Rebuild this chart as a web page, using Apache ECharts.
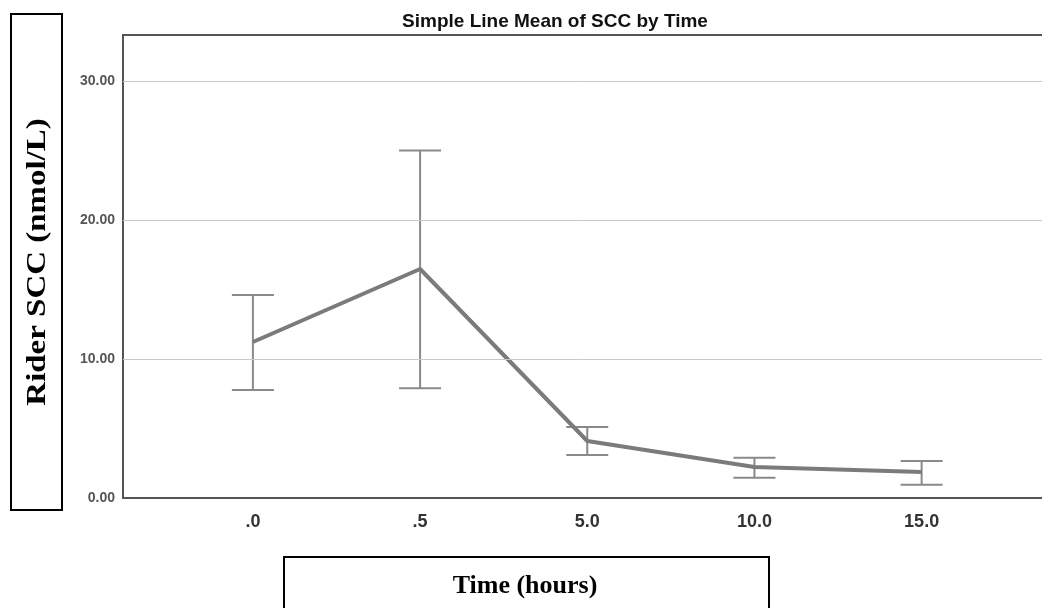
<!DOCTYPE html>
<html>
<head>
<meta charset="utf-8">
<script src="https://cdn.jsdelivr.net/npm/echarts@6/dist/echarts.min.js"></script>
<style>
  html, body { margin: 0; padding: 0; background: #fff; }
  #chart { width: 1042px; height: 608px; }
</style>
</head>
<body>
<div id="chart"></div>
<script>
// time points (hours) and mean SCC with error bar ends
const timeLabels = ['.0', '.5', '5.0', '10.0', '15.0'];
const meanScc = [11.22, 16.47, 4.1, 2.23, 1.87];
const upperScc = [14.6, 25.0, 5.1, 2.9, 2.66];
const lowerScc = [7.77, 7.9, 3.1, 1.45, 0.95];
const yTicks = [0, 10, 20, 30];

const chart = echarts.init(document.getElementById('chart'));

const lineData = meanScc.map((v, i) => [i, v]);
const barData = upperScc.map((v, i) => [i, lowerScc[i], v]);

chart.setOption({
    animation: false,
    title: {
        text: 'Simple Line Mean of SCC by Time',
        left: 550,
        top: 7,
        textAlign: 'center',
        textStyle: { fontFamily: 'Liberation Sans', fontWeight: 'bold', fontSize: 19, color: '#111' },
    },
    grid: { left: 123, top: 35, right: 0, bottom: 110 },
    xAxis: [
        {
            type: 'value',
            min: -0.777,
            max: 4.72,
            axisLine: { show: true, onZero: false, lineStyle: { color: '#555', width: 2 } },
            axisTick: { show: false },
            splitLine: { show: false },
            axisLabel: {
                customValues: [0, 1, 2, 3, 4],
                formatter: (v) => timeLabels[Math.round(v)],
                margin: 15,
                fontFamily: 'Liberation Sans',
                fontWeight: 'bold',
                fontSize: 18,
                color: '#333',
            },
        },
        {
            type: 'value',
            position: 'top',
            min: -0.777,
            max: 4.72,
            axisLine: { show: true, onZero: false, lineStyle: { color: '#555', width: 2 } },
            axisTick: { show: false },
            axisLabel: { show: false },
            splitLine: { show: false },
        },
    ],
    yAxis: {
        type: 'value',
        min: 0,
        max: 33.3,
        axisLine: { show: true, onZero: false, lineStyle: { color: '#555', width: 2 } },
        axisTick: { show: false },
        axisLabel: {
            customValues: yTicks,
            formatter: (v) => v.toFixed(2),
            margin: 8,
            fontFamily: 'Liberation Sans',
            fontWeight: 'bold',
            fontSize: 14,
            color: '#555',
        },
        splitLine: { show: false },
    },
    graphic: [
        {
            type: 'rect',
            shape: { x: 11, y: 14, width: 51, height: 496 },
            style: { fill: '#fff', stroke: '#000', lineWidth: 2 },
        },
        {
            type: 'text',
            x: 38,
            y: 262,
            rotation: Math.PI / 2,
            scaleX: 1.22,
            style: {
                text: 'Rider SCC (nmol/L)',
                fontFamily: 'Liberation Serif',
                fontWeight: 'bold',
                fontSize: 27,
                fill: '#000',
                align: 'center',
                verticalAlign: 'middle',
            },
        },
        {
            type: 'rect',
            shape: { x: 284, y: 557, width: 485, height: 60 },
            style: { fill: '#fff', stroke: '#000', lineWidth: 2 },
        },
        {
            type: 'text',
            x: 525,
            y: 586,
            style: {
                text: 'Time (hours)',
                fontFamily: 'Liberation Serif',
                fontWeight: 'bold',
                fontSize: 26,
                fill: '#000',
                align: 'center',
                verticalAlign: 'middle',
            },
        },
    ],
    series: [
        {
            // light horizontal grid lines at the tick values
            type: 'line',
            data: [],
            markLine: {
                silent: true,
                symbol: 'none',
                label: { show: false },
                lineStyle: { color: '#c8c8c8', width: 1, type: 'solid' },
                data: yTicks.filter((t) => t > 0).map((t) => ({ yAxis: t })),
            },
        },
        {
            type: 'custom',
            renderItem: (params, api) => {
                const x = api.value(0);
                const lo = api.coord([x, api.value(1)]);
                const hi = api.coord([x, api.value(2)]);
                const half = 21;
                const style = { stroke: '#8a8a8a', lineWidth: 2 };
                return {
                    type: 'group',
                    children: [
                        { type: 'line', shape: { x1: lo[0], y1: lo[1], x2: hi[0], y2: hi[1] }, style },
                        { type: 'line', shape: { x1: hi[0] - half, y1: hi[1], x2: hi[0] + half, y2: hi[1] }, style },
                        { type: 'line', shape: { x1: lo[0] - half, y1: lo[1], x2: lo[0] + half, y2: lo[1] }, style },
                    ],
                };
            },
            data: barData,
            z: 3,
        },
        {
            type: 'line',
            data: lineData,
            symbol: 'none',
            lineStyle: { color: '#7b7b7b', width: 4 },
            z: 4,
        },
    ],
});
</script>
</body>
</html>
